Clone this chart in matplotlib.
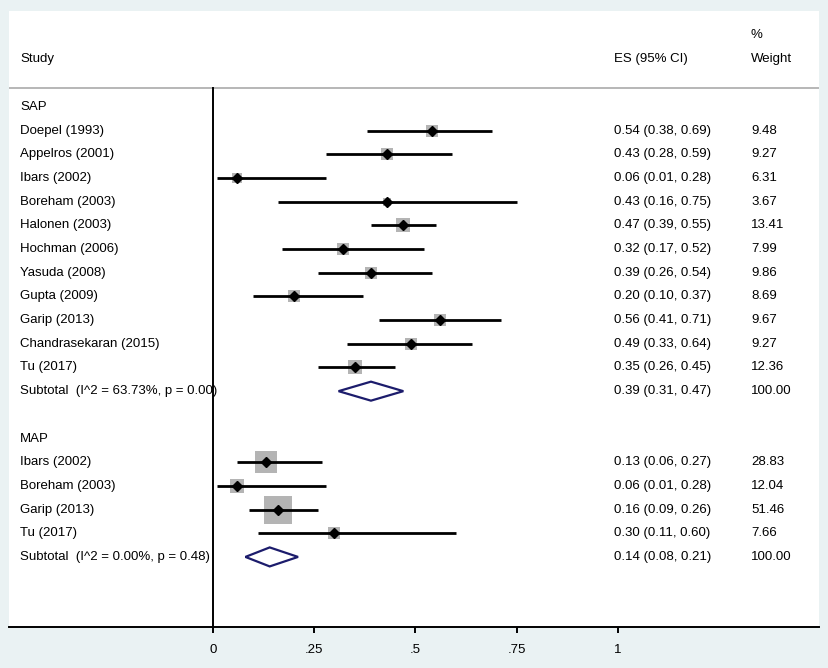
import numpy as np
import matplotlib.pyplot as plt
from matplotlib.patches import Polygon
from matplotlib.transforms import blended_transform_factory

plt.rcParams['font.family'] = ['Liberation Sans', 'DejaVu Sans']

# study rows per group
sap_names = ["Doepel (1993)", "Appelros (2001)", "Ibars (2002)", "Boreham (2003)",
             "Halonen (2003)", "Hochman (2006)", "Yasuda (2008)", "Gupta (2009)",
             "Garip (2013)", "Chandrasekaran (2015)", "Tu (2017)"]
sap_es = [0.54, 0.43, 0.06, 0.43, 0.47, 0.32, 0.39, 0.20, 0.56, 0.49, 0.35]
sap_lo = [0.38, 0.28, 0.01, 0.16, 0.39, 0.17, 0.26, 0.10, 0.41, 0.33, 0.26]
sap_hi = [0.69, 0.59, 0.28, 0.75, 0.55, 0.52, 0.54, 0.37, 0.71, 0.64, 0.45]
sap_w = [9.48, 9.27, 6.31, 3.67, 13.41, 7.99, 9.86, 8.69, 9.67, 9.27, 12.36]
sap_sub = (0.39, 0.31, 0.47)
sap_het = "Subtotal  (I^2 = 63.73%, p = 0.00)"

map_names = ["Ibars (2002)", "Boreham (2003)", "Garip (2013)", "Tu (2017)"]
map_es = [0.13, 0.06, 0.16, 0.30]
map_lo = [0.06, 0.01, 0.09, 0.11]
map_hi = [0.27, 0.28, 0.26, 0.60]
map_w = [28.83, 12.04, 51.46, 7.66]
map_sub = (0.14, 0.08, 0.21)
map_het = "Subtotal  (I^2 = 0.00%, p = 0.48)"

xticks = [0, 0.25, 0.5, 0.75, 1]
xticklabels = ["0", ".25", ".5", ".75", "1"]

W, H = 829, 668
fig = plt.figure(figsize=(W / 100, H / 100), dpi=100, facecolor='#eaf2f3')
# white panel in pixels: x 9..819, y 11..627
ax = fig.add_axes([9 / W, 1 - 627 / H, 810 / W, 616 / H])
ax.set_facecolor('white')

px_x = 405.0    # pixels per unit effect size
px_row = 23.68  # pixels per row
ax.set_xlim((9 - 213) / px_x, (819 - 213) / px_x)
ax.set_ylim((627 - 107) / px_row, (11 - 107) / px_row)

fs = 9.5
col_study, col_es, col_w = 0.0136, 0.747, 0.916
tt = blended_transform_factory(ax.transAxes, ax.transData)

# headers
ax.text(col_study, -2.03, "Study", transform=tt, fontsize=fs, va='center')
ax.text(col_es, -2.03, "ES (95% CI)", transform=tt, fontsize=fs, va='center')
ax.text(col_w, -2.03, "Weight", transform=tt, fontsize=fs, va='center')
ax.text(col_w, -3.04, "%", transform=tt, fontsize=fs, va='center')
ax.axhline(-0.8, color='#aaaaaa', lw=1.2)
ax.plot([0, 0], [-0.8, 30], color='black', lw=1.4, clip_on=True)


def draw_group(start, label, names, es, lo, hi, w, sub, het):
    ax.text(col_study, start, label, transform=tt, fontsize=fs, va='center')
    for i in range(len(names)):
        y = start + 1 + i
        ax.text(col_study, y, names[i], transform=tt, fontsize=fs, va='center')
        ax.text(col_es, y, "%.2f (%.2f, %.2f)" % (es[i], lo[i], hi[i]),
                transform=tt, fontsize=fs, va='center')
        ax.text(col_w, y, "%.2f" % w[i], transform=tt, fontsize=fs, va='center')
        ax.scatter(es[i], y, s=8.46 * w[i], marker='s', color='#b4b4b4',
                   linewidths=0, zorder=2)
        ax.plot([lo[i], hi[i]], [y, y], color='black', lw=2, zorder=3,
                solid_capstyle='butt')
        ax.plot(es[i], y, marker='D', color='black', markersize=4.6, zorder=4)
    y = start + 1 + len(names)
    ax.text(col_study, y, het, transform=tt, fontsize=fs, va='center', zorder=5)
    ax.text(col_es, y, "%.2f (%.2f, %.2f)" % sub, transform=tt, fontsize=fs,
            va='center')
    ax.text(col_w, y, "100.00", transform=tt, fontsize=fs, va='center')
    h = 9.5 / px_row
    ax.add_patch(Polygon([(sub[1], y), (sub[0], y - h), (sub[2], y), (sub[0], y + h)],
                         closed=True, facecolor='white', edgecolor='#1c1c6c',
                         lw=1.6, zorder=3))


draw_group(0, "SAP", sap_names, sap_es, sap_lo, sap_hi, sap_w, sap_sub, sap_het)
draw_group(14, "MAP", map_names, map_es, map_lo, map_hi, map_w, map_sub, map_het)

for s in ['top', 'right', 'left']:
    ax.spines[s].set_visible(False)
ax.spines['bottom'].set_linewidth(1.4)
ax.set_yticks([])
ax.set_xticks(xticks)
ax.set_xticklabels(xticklabels, fontsize=fs)
ax.tick_params(axis='x', direction='out', length=4.5, width=1.4, pad=8)

fig.savefig('out.png', dpi=100, facecolor=fig.get_facecolor())
